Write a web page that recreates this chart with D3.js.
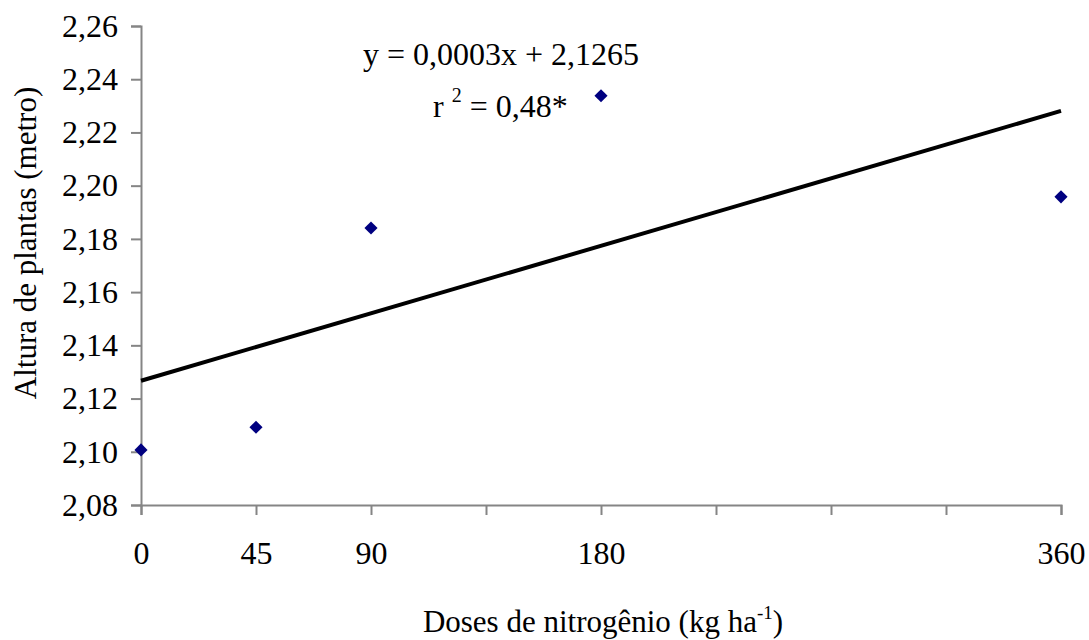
<!DOCTYPE html>
<html>
<head>
<meta charset="utf-8">
<script src="https://cdn.jsdelivr.net/npm/d3@7"></script>
<style>
  body { margin: 0; background: #fff; }
  svg text { font-family: "Liberation Serif", "Times New Roman", serif; fill: #000; }
</style>
</head>
<body>
<svg id="chart"></svg>
<script>
var WIDTH = 1089, HEIGHT = 640;
var FONT = "'Liberation Serif', 'Times New Roman', serif";

// data
var doses = [0, 45, 90, 180, 360];
var alturas = [2.1007, 2.1092, 2.1841, 2.2338, 2.1958];
var trendX = [0, 360];
var trendY = [2.1267, 2.2281];
var yTicks = [2.08, 2.10, 2.12, 2.14, 2.16, 2.18, 2.20, 2.22, 2.24, 2.26];
var xTicks = [0, 45, 90, 135, 180, 225, 270, 315, 360];
var xLabels = [0, 45, 90, 180, 360];

var svg = d3.select("#chart")
  .attr("width", WIDTH)
  .attr("height", HEIGHT)
  .attr("font-family", FONT);

var x = d3.scaleLinear().domain([0, 360]).range([141, 1061]);
var y = d3.scaleLinear().domain([2.08, 2.26]).range([505, 26]);
var fmt = function (v) { return d3.format(".2f")(v).replace(".", ","); };

// y axis
var yAxis = svg.append("g")
  .attr("transform", "translate(" + x(0) + ",0)")
  .call(d3.axisLeft(y).tickValues(yTicks).tickSize(10).tickPadding(13).tickFormat(fmt))
  .attr("font-family", FONT)
  .attr("font-size", 32);
yAxis.select(".domain").attr("stroke", "#858585").attr("stroke-width", 2);
yAxis.selectAll(".tick line").attr("stroke", "#858585").attr("stroke-width", 2);
yAxis.selectAll(".tick text").attr("fill", "#000");

// x axis
var xAxis = svg.append("g")
  .attr("transform", "translate(0," + y(2.08) + ")")
  .call(d3.axisBottom(x).tickValues(xTicks).tickSize(10).tickSizeOuter(10)
    .tickFormat(function (d) { return xLabels.indexOf(d) >= 0 ? d : ""; }))
  .attr("font-family", FONT)
  .attr("font-size", 32);
xAxis.select(".domain").attr("stroke", "#858585").attr("stroke-width", 2);
xAxis.selectAll(".tick line").attr("stroke", "#858585").attr("stroke-width", 2);
xAxis.selectAll(".tick text")
  .attr("y", 59)
  .attr("dy", 0)
  .attr("fill", "#000");

// trend line
svg.append("path")
  .datum(d3.zip(trendX, trendY))
  .attr("fill", "none")
  .attr("stroke", "#000")
  .attr("stroke-width", 4)
  .attr("d", d3.line().x(function (d) { return x(d[0]); }).y(function (d) { return y(d[1]); }));

// points
svg.selectAll("path.pt")
  .data(d3.zip(doses, alturas))
  .enter().append("path")
  .attr("class", "pt")
  .attr("fill", "#000080")
  .attr("d", d3.symbol().type(d3.symbolDiamond2).size(110))
  .attr("transform", function (d) { return "translate(" + x(d[0]) + "," + y(d[1]) + ")"; });

// equation
svg.append("text")
  .attr("x", 363).attr("y", 65)
  .attr("font-size", 32)
  .text("y = 0,0003x + 2,1265");

var r2 = svg.append("text")
  .attr("x", 433).attr("y", 117)
  .attr("font-size", 32)
  .style("white-space", "pre");
r2.append("tspan").text("r ");
r2.append("tspan").attr("dy", -15).attr("font-size", 20).text("2");
r2.append("tspan").attr("dy", 15).text(" = 0,48*");

// axis titles
var xt = svg.append("text")
  .attr("x", 603).attr("y", 632)
  .attr("text-anchor", "middle")
  .attr("font-size", 31);
xt.append("tspan").text("Doses de nitrogênio (kg ha");
xt.append("tspan").attr("dy", -13).attr("font-size", 19).text("-1");
xt.append("tspan").attr("dy", 13).text(")");

svg.append("text")
  .attr("transform", "translate(36,243) rotate(-90)")
  .attr("text-anchor", "middle")
  .attr("font-size", 31)
  .text("Altura de plantas (metro)");
</script>
</body>
</html>
